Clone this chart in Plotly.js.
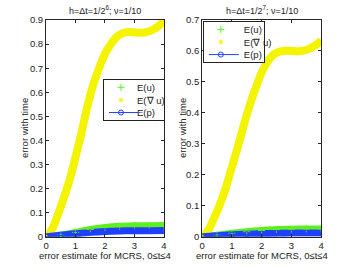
<!DOCTYPE html>
<html><head><meta charset="utf-8">
<script src="https://cdn.plot.ly/plotly-3.0.1.min.js"></script>
<style>html,body{margin:0;padding:0;background:#fff}#c{width:354px;height:267px}</style>
</head><body><div id="c"></div>
<script>
// time grids
var tFine = [0,0.2,0.4,0.6,0.8,1.0,1.2,1.4,1.6,1.8,2.0,2.2,2.4,2.6,2.8,3.0,3.2,3.4,3.6,3.8,4.0];
var tCoarse = [0,0.5,1.0,1.5,2.0,2.5,3.0,3.5,4.0];

// panel 1: h = dt = 1/2^6
var gradU1 = [0,0.03,0.09,0.16,0.235,0.33,0.43,0.54,0.63,0.70,0.76,0.80,0.83,0.845,0.85,0.848,0.847,0.85,0.858,0.873,0.895];
var u1 = [0,0.007,0.018,0.030,0.038,0.043,0.045,0.046,0.047];
var p1 = [0,0.006,0.012,0.018,0.022,0.024,0.025,0.025,0.026];

// panel 2: h = dt = 1/2^7
var gradU2 = [0,0.02,0.06,0.105,0.16,0.225,0.29,0.36,0.425,0.48,0.53,0.565,0.588,0.598,0.601,0.600,0.599,0.601,0.607,0.618,0.633];
var u2 = [0,0.005,0.011,0.016,0.020,0.023,0.024,0.025,0.025];
var p2 = [0,0.003,0.006,0.008,0.010,0.011,0.012,0.012,0.012];

var names = ['E(u)','E(\u2207 u)','E(p)'];
var titles = ['h=\u0394t=1/2<sup>6</sup>; \u03bd=1/10','h=\u0394t=1/2<sup>7</sup>; \u03bd=1/10'];
var xTitle = 'error estimate for MCRS, 0\u2264t\u22644';
var yTitle = 'error with time';

var cG = '#5ef01e', cY = '#f4f400', cB = '#2040ff';

function panel(xa, ya, lg, u, gu, p) {
  return [
    {x:tCoarse, y:u, xaxis:xa, yaxis:ya, mode:'lines', line:{color:cG,width:7,shape:'spline',smoothing:0.7}, showlegend:false, hoverinfo:'skip'},
    {x:tFine, y:gu, xaxis:xa, yaxis:ya, mode:'lines', line:{color:cY,width:8,shape:'spline',smoothing:0.7}, showlegend:false, hoverinfo:'skip'},
    {x:tCoarse, y:p, xaxis:xa, yaxis:ya, mode:'lines', line:{color:cB,width:7,shape:'spline',smoothing:0.7}, showlegend:false, hoverinfo:'skip'},
    {x:tCoarse, y:u, xaxis:xa, yaxis:ya, legend:lg, name:names[0], mode:'markers', marker:{symbol:'cross-thin-open',size:5,line:{color:cG,width:1},color:cG}},
    {x:tFine, y:gu, xaxis:xa, yaxis:ya, legend:lg, name:names[1], mode:'markers', marker:{symbol:'asterisk-open',size:4,line:{color:cY,width:1},color:cY}},
    {x:tCoarse, y:p, xaxis:xa, yaxis:ya, legend:lg, name:names[2], mode:'lines+markers', line:{color:cB,width:1}, marker:{symbol:'circle-open',size:5,line:{color:cB,width:1},color:cB}}
  ];
}

var data = panel('x','y','legend',u1,gradU1,p1).concat(panel('x2','y2','legend2',u2,gradU2,p2));

var fam = 'Liberation Sans, Arial, sans-serif';
var ax = {showgrid:false, zeroline:false, showline:true, mirror:'ticks', linecolor:'#262626', linewidth:1,
  ticks:'inside', ticklen:3, tickcolor:'#262626', tickfont:{size:9.5,color:'#222',family:fam}};
function clone(o,extra){var r=JSON.parse(JSON.stringify(o));for(var k in extra)r[k]=extra[k];return r;}

var layout = {
  width:354, height:267, margin:{l:0,r:0,t:0,b:0}, paper_bgcolor:'#fff', plot_bgcolor:'#fff',
  font:{family:fam,size:10,color:'#222'},
  xaxis: clone(ax,{domain:[0.130,0.463], range:[0,4], tickvals:[0,1,2,3,4], anchor:'y'}),
  yaxis: clone(ax,{domain:[0.1135,0.925], range:[0,0.9], dtick:0.1, anchor:'x'}),
  xaxis2: clone(ax,{domain:[0.571,0.907], range:[0,4], tickvals:[0,1,2,3,4], anchor:'y2'}),
  yaxis2: clone(ax,{domain:[0.1135,0.925], range:[0,0.7], dtick:0.1, anchor:'x2'}),
  legend:{x:0.291, y:0.704, xanchor:'left', yanchor:'top', bgcolor:'#fff', bordercolor:'#222', borderwidth:1,
    font:{size:9.5,family:fam}, itemwidth:30, tracegroupgap:0},
  legend2:{x:0.573, y:0.921, xanchor:'left', yanchor:'top', bgcolor:'#fff', bordercolor:'#222', borderwidth:1,
    font:{size:9.5,family:fam}, itemwidth:30, tracegroupgap:0},
  annotations:[
    {text:titles[0], xref:'paper', yref:'paper', x:105/354, y:1-10/267, xanchor:'center', yanchor:'middle', showarrow:false, font:{size:9,family:fam}},
    {text:titles[1], xref:'paper', yref:'paper', x:261.5/354, y:1-10/267, xanchor:'center', yanchor:'middle', showarrow:false, font:{size:9,family:fam}},
    {text:xTitle, xref:'paper', yref:'paper', x:105/354, y:1-255/267, xanchor:'center', yanchor:'middle', showarrow:false, font:{size:9.5,family:fam}},
    {text:xTitle, xref:'paper', yref:'paper', x:261.5/354, y:1-255/267, xanchor:'center', yanchor:'middle', showarrow:false, font:{size:9.5,family:fam}},
    {text:yTitle, xref:'paper', yref:'paper', x:24/354, y:1-128/267, xanchor:'center', yanchor:'middle', textangle:-90, showarrow:false, font:{size:9.5,family:fam}},
    {text:yTitle, xref:'paper', yref:'paper', x:182/354, y:1-128/267, xanchor:'center', yanchor:'middle', textangle:-90, showarrow:false, font:{size:9.5,family:fam}}
  ]
};
Plotly.newPlot('c', data, layout, {staticPlot:true, displayModeBar:false}).then(function(){
  try {
    var rowH = 12.6, pad = 1;
    var legs = document.querySelectorAll('g.infolayer > g[class^="legend"]');
    legs.forEach(function(leg){
      var items = leg.querySelectorAll('g.traces');
      items.forEach(function(it, i){
        var m = /translate\(([^,]+),\s*([^)]+)\)/.exec(it.getAttribute('transform')||'');
        var x0 = m ? parseFloat(m[1]) : 1;
        it.setAttribute('transform','translate('+x0+','+(1+pad+rowH/2+i*rowH)+')');
        var t = it.querySelector('text.legendtext');
        if (t) t.setAttribute('x', 33);
        var lp = it.querySelector('g.legendpoints');
        if (lp) lp.setAttribute('transform','translate(-3,0)');
      });
      var bg = leg.querySelector('rect.bg');
      if (bg) { bg.setAttribute('height', 2*pad + items.length*rowH + 1); bg.setAttribute('width', 61); }
    });
  } catch(e) {}
});
</script></body></html>
